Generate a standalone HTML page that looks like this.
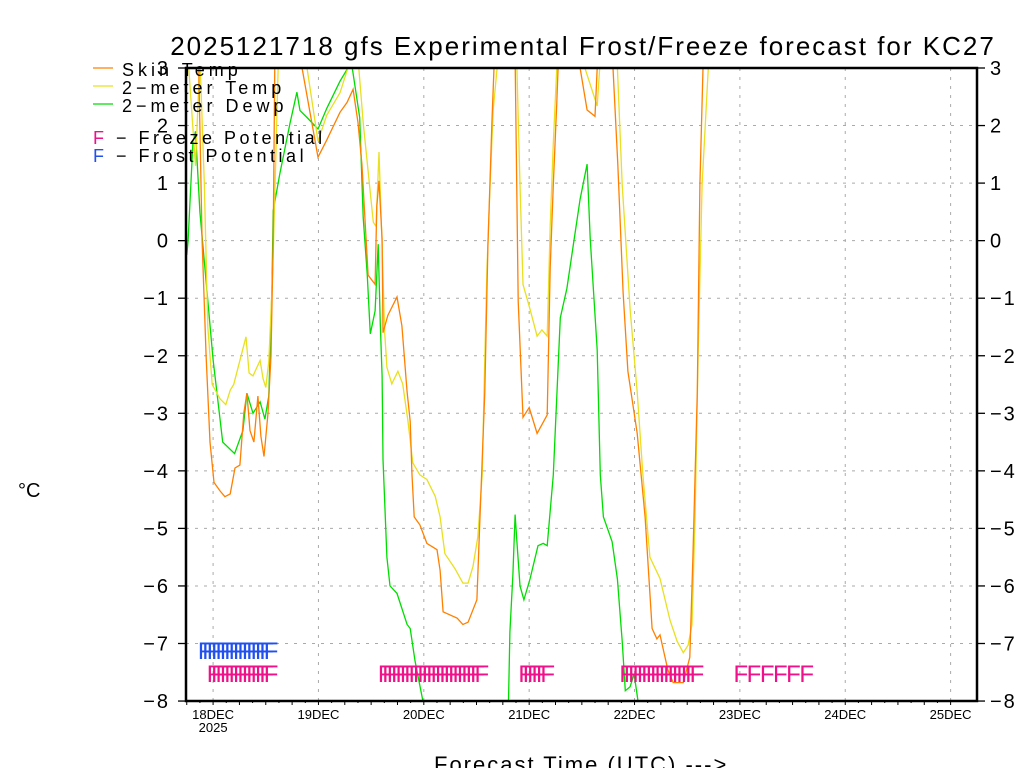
<!DOCTYPE html>
<html><head><meta charset="utf-8"><style>
html,body{margin:0;padding:0;background:#fff;}
svg{display:block;font-family:"Liberation Sans",sans-serif;}
</style></head><body>
<svg id="chart" width="1024" height="768" viewBox="0 0 1024 768" xmlns="http://www.w3.org/2000/svg">
<rect x="0" y="0" width="1024" height="768" fill="#fff"/>
<text x="583" y="55" font-size="26" letter-spacing="2" text-anchor="middle" fill="#000">2025121718 gfs Experimental Frost/Freeze forecast for KC27</text>
<g id="grid"></g>
<defs><clipPath id="clip"><rect x="186" y="68" width="791" height="633"/></clipPath></defs>
<g id="series" clip-path="url(#clip)"></g>
<g id="marks"></g>
<g id="axes"></g>
<g font-size="18" letter-spacing="4">
 <line x1="93" y1="68" x2="113" y2="68" stroke="#ff8000" stroke-width="1.3"/>
 <text x="122" y="76">Skin Temp</text>
 <line x1="93" y1="86" x2="113" y2="86" stroke="#e8e020" stroke-width="1.3"/>
 <text x="122" y="94">2−meter Temp</text>
 <line x1="93" y1="104" x2="113" y2="104" stroke="#00dd00" stroke-width="1.3"/>
 <text x="122" y="112">2−meter Dewp</text>
 <text x="93" y="144" letter-spacing="3.5"><tspan fill="#f0108a">F</tspan> − Freeze Potential</text>
 <text x="93" y="162" letter-spacing="3.5"><tspan fill="#2050f0">F</tspan> − Frost Potential</text>
</g>
<text x="18" y="497" font-size="20">°C</text>
<text x="434" y="772" font-size="22" letter-spacing="2">Forecast Time (UTC) ---&gt;</text>
</svg>
<script>
// hours since 2025-12-17 18Z
const skinT=[0,2.6,3.5,4.4,5.3,6.2,7.6,8.7,9.9,11,12.1,13,13.7,14.4,15.3,16.2,16.9,17.6,18.5,19.2,19.7,20.1,23.5,25.8,29.9,31.9,34.9,36.5,37.9,39,39.9,41.3,42.9,43.3,43.8,44.5,44.7,45.8,47.9,49,50.2,50.9,51.3,51.8,53.1,54.7,57,57.7,58.4,61.6,62.9,64.1,66.1,66.8,67.9,68.6,69.5,70,72.5,74.8,75.5,76.6,78,79.8,82.1,82.8,83.5,84.3,84.6,87.3,89.6,91.2,93,93.5,95.3,97.1,98.2,99.4,100.5,102.6,104.4,106,107.1,107.8,109.6,110.8,113.1,114.6,115.3,116.3,116.9,117.6,121.5,170];
const skinV=[4,3.5,0,-2,-3.5,-4.2,-4.35,-4.45,-4.4,-3.95,-3.9,-3.0,-2.65,-3.3,-3.5,-2.7,-3.4,-3.75,-3.0,-2.0,0,3.5,4,3.2,1.45,1.75,2.23,2.4,2.63,2.05,1.33,-0.6,-0.76,0.6,1.04,0.03,-1.6,-1.3,-0.98,-1.48,-2.63,-3.14,-4.07,-4.8,-4.94,-5.26,-5.37,-5.73,-6.45,-6.56,-6.67,-6.63,-6.24,-4.8,-2.63,-0.1,2.05,3,5,3.2,-1.05,-3.07,-2.9,-3.35,-3.03,-0.47,0.97,2.4,3,5,3,2.27,2.16,3,5,3,1.33,-0.9,-2.27,-3.35,-4.8,-6.74,-6.92,-6.85,-7.46,-7.68,-7.68,-7.24,-5.5,-2.63,0.97,3,6,6];
const t2mT=[0,2,3,4,4.8,5.8,7.6,8.9,9.9,10.7,13.5,14.2,15.1,16.7,17.4,18,18.7,19.6,20.3,21,25,27,29.9,31.9,34.9,36.7,38,39.2,40.2,42.5,43.1,43.8,44.5,45.1,45.6,46.7,48.1,49.2,50.4,51.5,53.1,54.7,56.6,57.7,58.8,61.1,62.9,64.1,65.2,66.3,67.3,67.7,68.4,69.1,69.8,70.7,73,75.2,75.9,76.6,78.2,79.8,80.9,82.1,82.8,83.5,84.3,88,90.7,93.5,94.5,96,98.1,99.2,101,102.6,103.9,105.5,107.8,110.1,111.7,113.1,114.2,115.1,115.8,116.5,117.4,118.8,122,170];
const t2mV=[3.5,1.3,3.2,1,-1.5,-2.5,-2.75,-2.85,-2.6,-2.5,-1.67,-2.3,-2.35,-2.08,-2.4,-2.55,-2.1,-0.5,1.5,3.5,4,3.2,1.73,2.18,2.57,3.0,4,3,2.05,0.32,0.25,1.54,-0.1,-1.6,-2.2,-2.49,-2.27,-2.49,-3.14,-3.86,-4.07,-4.15,-4.44,-4.8,-5.44,-5.7,-5.95,-5.95,-5.66,-5.15,-4.07,-2.63,-0.47,0.97,2.27,3,5,3,0.97,-0.76,-1.19,-1.66,-1.55,-1.66,0.25,1.69,3,5,3,2.34,3.5,5,3,0.97,-1.19,-2.63,-4.07,-5.5,-5.87,-6.6,-6.96,-7.16,-7.03,-6.67,-4.8,-1.91,0.97,3,6,6];
const dewT=[0,0.3,1.4,2,3,6,6.9,8.2,10.9,12.8,13.7,15.1,16.7,17.8,18.7,19.4,19.7,21.2,23.5,25.1,25.8,27.4,29.9,31.9,34.9,36.7,37.5,39.4,40.2,41.1,41.8,42.9,43.6,44.1,44.5,44.7,45.6,46.3,47.9,50.2,50.9,52,53.8,56,72,73.3,73.6,74.3,74.8,75.2,75.9,76.8,78.2,80,81.2,82.1,83.5,85.1,86.6,88,89.6,91.2,91.9,93.5,94.2,94.9,96.9,98.1,99.2,99.9,101,101.9,102.8,104,170];
const dewV=[-0.25,0,1.7,1.9,0.5,-2.07,-2.65,-3.5,-3.7,-3.3,-2.65,-3.0,-2.8,-3.1,-2.7,-0.87,0.52,1.16,2.03,2.58,2.26,2.14,1.94,2.3,2.77,3.0,3.1,2.14,0.4,-0.58,-1.62,-1.22,-0.06,-1.45,-2.35,-3.8,-5.5,-6.0,-6.13,-6.67,-6.74,-7.3,-8,-9,-9,-8,-6.8,-5.8,-4.76,-5.23,-6.0,-6.24,-5.88,-5.3,-5.26,-5.3,-4.07,-1.34,-0.83,-0.1,0.72,1.33,0.04,-1.9,-4.07,-4.8,-5.23,-5.88,-6.96,-7.82,-7.75,-7.53,-8,-9,-9];
const frostHours=[3,4,5,6,7,8,9,10,11,12,13,14,15,16,17,18];
const freezeHours=[5,6,7,8,9,10,11,12,13,14,15,16,17,18,44,45,46,47,48,49,50,51,52,53,54,55,56,57,58,59,60,61,62,63,64,65,66,76,77,78,79,80,81,99,100,101,102,103,104,105,106,107,108,109,110,111,112,113,114,115,125,128,131,134,137,140];
const yTicks=[3,2,1,0,-1,-2,-3,-4,-5,-6,-7,-8];
const dayLabels=["18DEC","19DEC","20DEC","21DEC","22DEC","23DEC","24DEC","25DEC"];
const dayHours=[6,30,54,78,102,126,150,174];

const NS="http://www.w3.org/2000/svg";
const X0=186.75,PXH=4.39,Y0=68,PXV=57.55;
function xs(h){return X0+h*PXH;}
function ys(v){return Y0+(3-v)*PXV;}
function mk(tag,attrs,parent){const e=document.createElementNS(NS,tag);for(const k in attrs)e.setAttribute(k,attrs[k]);parent.appendChild(e);return e;}
const grid=document.getElementById('grid'),axes=document.getElementById('axes'),series=document.getElementById('series'),marks=document.getElementById('marks');
yTicks.forEach(v=>{
  if(v>-8&&v<3){const g=mk('line',{x1:186,x2:977,y1:ys(v),y2:ys(v),stroke:'#aaa','stroke-dasharray':'3,6'},grid);
  
  }
  const tl=mk('line',{x1:178,x2:186,y1:ys(v),y2:ys(v),stroke:'#000','stroke-width':1.3},axes);
  
  
  const tr=mk('line',{x1:977,x2:985,y1:ys(v),y2:ys(v),stroke:'#000','stroke-width':1.3},axes);
  
  
  const lab=(v<0?'−':'')+Math.abs(v);
  const a=mk('text',{x:170,y:ys(v)+7,'font-size':20,'text-anchor':'end','letter-spacing':2},axes);a.textContent=lab;
  
  
  const b=mk('text',{x:990,y:ys(v)+7,'font-size':20,'letter-spacing':2},axes);b.textContent=lab;
  
  
});
dayHours.forEach((h,i)=>{
  const g=mk('line',{x1:xs(h),x2:xs(h),y1:68,y2:701,stroke:'#aaa','stroke-dasharray':'3,6'},grid);
  
  
  const t=mk('text',{x:xs(h),y:719,'font-size':13,'text-anchor':'middle'},axes);t.textContent=dayLabels[i];
  
  
});
const yr=mk('text',{x:xs(6),y:732,'font-size':13,'text-anchor':'middle'},axes);yr.textContent='2025';


for(let h=0;h<=176;h+=3){const t=mk('line',{x1:xs(h),x2:xs(h),y1:701,y2:h%6===0?705:703,stroke:'#000'},axes);
  
  }
const frame=mk('rect',{x:186,y:68,width:791,height:633,fill:'none',stroke:'#000','stroke-width':2.5},axes);


function line(T,V,color,name){
  const d=T.map((h,i)=>(i?'L':'M')+xs(h).toFixed(1)+','+ys(V[i]).toFixed(1)).join('');
  const p=mk('path',{d:d,fill:'none',stroke:color,'stroke-width':1.3},series);
  
  
}
line(dewT,dewV,'#00dd00','dewpoint-line');
line(t2mT,t2mV,'#e8e020','2m-temp-line');
line(skinT,skinV,'#ff8000','skin-temp-line');
frostHours.forEach(h=>{const t=mk('text',{x:xs(h)-2,y:659,'font-size':24,fill:'#2050f0'},marks);t.textContent='F';
  
  });
freezeHours.forEach(h=>{const t=mk('text',{x:xs(h)-2,y:682,'font-size':24,fill:'#f0108a'},marks);t.textContent='F';
  
  });
</script>
</body></html>
